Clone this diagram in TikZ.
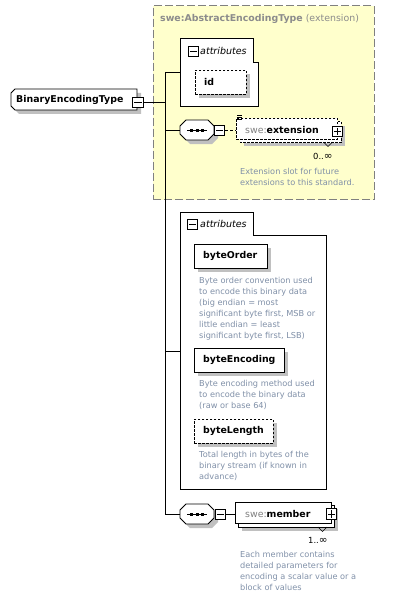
\documentclass[tikz,border=0pt]{standalone}
\usepackage{fontspec}
\setmainfont{DejaVu Sans}
\definecolor{yel}{HTML}{FFFFCC}
\definecolor{shadowgray}{HTML}{C0C0C0}
\definecolor{titlegray}{HTML}{8C8C8C}
\definecolor{doccol}{HTML}{8090A8}
\definecolor{prefgray}{HTML}{808080}
\newcommand\infsym{{\fontsize{10.5}{11}\selectfont ∞}}
\tikzset{
  shad/.style={fill=shadowgray, draw=none},
  conn/.style={line width=0.8pt, draw=black},
  elem/.style={draw=black, fill=white, line width=0.8pt, inner sep=0pt, anchor=north west},
  optel/.style={elem, dash pattern=on 2.5pt off 1.5pt},
  lbl/.style={font=\fontsize{9.4}{11}\selectfont\bfseries, inner sep=0pt, anchor=west},
  attrlbl/.style={font=\fontsize{9.5}{11}\selectfont\itshape, inner sep=0pt, anchor=west},
  doc/.style={font=\fontsize{8.2}{11}\selectfont, text=doccol, align=left, inner sep=0pt, anchor=north west},
  card/.style={font=\fontsize{8.4}{11}\selectfont, inner sep=0pt, anchor=west},
  pm/.style={draw=black, fill=white, line width=0.8pt, minimum size=10.5pt, inner sep=0pt},
}
\begin{document}
\begin{tikzpicture}[x=1pt,y=-1pt]
\useasboundingbox (0,0) rectangle (416,599);

% ---------- extension base (yellow) ----------
\node[draw=prefgray, fill=yel, line width=1.1pt, dash pattern=on 8pt off 3pt,
      minimum width=221pt, minimum height=194pt, inner sep=0pt, anchor=north west] (base) at (152.5,5) {};
\node[anchor=west, inner sep=0pt, text=titlegray, font=\fontsize{9.4}{11}\selectfont] (title) at (160,19)
  {\textbf{swe:AbstractEncodingType} (extension)};

% ---------- BinaryEncodingType ----------
\fill[shad] (19,93) -- (141,93) -- (141,114) -- (19,114) -- (15,110) -- (15,97) -- cycle;
\draw[conn, fill=white] (15,89) -- (137,89) -- (137,110) -- (15,110) -- (11,106) -- (11,93) -- cycle;
\node[lbl] (bet) at (16,100) {BinaryEncodingType};
\node[pm] (betm) at (138,102.5) {};
\draw[conn] ([xshift=2pt]betm.west) -- ([xshift=-2pt]betm.east);

% ---------- trunk ----------
\coordinate (t0) at (165,102.5);
\coordinate (t1) at (165,72);
\coordinate (t2) at (165,130);
\coordinate (t3) at (165,351);
\coordinate (t4) at (165,514);
\draw[conn] (betm.east) -- (t0);
\draw[conn] (t1) -- (t4);

% ---------- attributes group 1 ----------
\draw[conn, fill=white] (180,38) -- (253,38) -- (253,62) -- (258,62) -- (258,106) -- (180,106) -- cycle;
\coordinate (ag1) at (180,72);
\draw[conn] (t1) -- (ag1);
\node[pm] (ag1m) at (193.5,51.5) {};
\draw[conn] ([xshift=2pt]ag1m.west) -- ([xshift=-2pt]ag1m.east);
\node[attrlbl] (ag1l) at (200,51) {attributes};
\fill[shad] (199,74) rectangle (250,98);
\node[optel, minimum width=51pt, minimum height=24pt] (id) at (195,70) {};
\node[lbl] (idl) at (204,82) {id};

% ---------- sequence 1 ----------
\begin{scope}[shift={(180,120)}]
  \fill[shad] (10,4) -- (32,4) -- (38,10) -- (38,18) -- (32,24) -- (10,24) -- (4,18) -- (4,10) -- cycle;
  \draw[conn, fill=white] (6,0) -- (28,0) -- (34,6) -- (34,14) -- (28,20) -- (6,20) -- (0,14) -- (0,6) -- cycle;
  \draw[line width=0.9pt] (7,10) -- (27,10);
  \fill (10,8.5) rectangle +(3,3);
  \fill (15.5,8.5) rectangle +(3,3);
  \fill (21,8.5) rectangle +(3,3);
\end{scope}
\node[inner sep=0pt, minimum width=34pt, minimum height=20pt] (seq1) at (197,130) {};
\draw[conn] (t2) -- (seq1.west);
\node[pm] (seq1m) at (219.5,130.5) {};
\draw[conn] ([xshift=2pt]seq1m.west) -- ([xshift=-2pt]seq1m.east);

% ---------- swe:extension ----------
\fill[shad] (244,126) rectangle (345,146);
\draw[conn, fill=white, dash pattern=on 2.5pt off 1.5pt] (240,121.5) rectangle (341,142.5);
\node[optel, minimum width=101pt, minimum height=21pt] (ext) at (236,118) {};
\draw[conn, dash pattern=on 3pt off 2pt] (seq1m.east) -- (ext.west |- seq1m.east);
\draw[line width=0.5pt] (237,115) -- (242,115) (237,117.3) -- (242,117.3) (237,119.6) -- (242,119.6);
\node[lbl] (extl) at (245,130) {\textcolor{prefgray}{\mdseries swe:}extension};
\node[pm] (extp) at (337.5,131.5) {};
\draw[conn] ([xshift=2pt]extp.west) -- ([xshift=-2pt]extp.east)
            ([yshift=-2pt]extp.north) -- ([yshift=2pt]extp.south);
\draw[line width=0.6pt] (324,142.5) -- (328,146.5) -- (332,142.5);
\node[card] (extc) at (313,156) {0..\infsym};
\node[doc] (extd) at (240,168) {Extension slot for future\\extensions to this standard.};

% ---------- attributes group 2 ----------
\draw[conn, fill=white] (180,212) -- (253,212) -- (253,235) -- (326,235) -- (326,489) -- (180,489) -- cycle;
\coordinate (ag2) at (180,351);
\draw[conn] (t3) -- (ag2);
\node[pm] (ag2m) at (192.5,224.5) {};
\draw[conn] ([xshift=2pt]ag2m.west) -- ([xshift=-2pt]ag2m.east);
\node[attrlbl] (ag2l) at (200,224) {attributes};

% byteOrder
\fill[shad] (198,248) rectangle (271,272);
\node[elem, minimum width=73pt, minimum height=24pt] (bo) at (194,244) {};
\node[lbl] (bol) at (203,256) {byteOrder};
\node[doc] (bod) at (199,277) {Byte order convention used\\to encode this binary data\\(big endian = most\\significant byte first, MSB or\\little endian = least\\significant byte first, LSB)};

% byteEncoding
\fill[shad] (198,352) rectangle (288,376);
\node[elem, minimum width=90pt, minimum height=24pt] (be) at (194,348) {};
\node[lbl] (bel) at (203,360) {byteEncoding};
\node[doc] (bed) at (199,380) {Byte encoding method used\\to encode the binary data\\(raw or base 64)};

% byteLength
\fill[shad] (198,423) rectangle (277,447);
\node[optel, minimum width=79pt, minimum height=24pt] (bl) at (194,419) {};
\node[lbl] (bll) at (203,431) {byteLength};
\node[doc] (bld) at (199,451) {Total length in bytes of the\\binary stream (if known in\\advance)};

% ---------- sequence 2 ----------
\begin{scope}[shift={(180,504)}]
  \fill[shad] (10,4) -- (32,4) -- (38,10) -- (38,18) -- (32,24) -- (10,24) -- (4,18) -- (4,10) -- cycle;
  \draw[conn, fill=white] (6,0) -- (28,0) -- (34,6) -- (34,14) -- (28,20) -- (6,20) -- (0,14) -- (0,6) -- cycle;
  \draw[line width=0.9pt] (7,10) -- (27,10);
  \fill (10,8.5) rectangle +(3,3);
  \fill (15.5,8.5) rectangle +(3,3);
  \fill (21,8.5) rectangle +(3,3);
\end{scope}
\node[inner sep=0pt, minimum width=34pt, minimum height=20pt] (seq2) at (197,514) {};
\draw[conn] (t4) -- (seq2.west);
\node[pm] (seq2m) at (220.5,514.5) {};
\draw[conn] ([xshift=2pt]seq2m.west) -- ([xshift=-2pt]seq2m.east);

% ---------- swe:member ----------
\fill[shad] (242,509) rectangle (338,531);
\draw[conn, fill=white] (238.5,505.5) rectangle (334.5,527);
\node[elem, minimum width=96pt, minimum height=21pt] (mem) at (235,502) {};
\draw[conn] (seq2m.east) -- (mem.west |- seq2m.east);
\node[lbl] (meml) at (245,514) {\textcolor{prefgray}{\mdseries swe:}member};
\node[pm] (memp) at (331.5,514) {};
\draw[conn] ([xshift=2pt]memp.west) -- ([xshift=-2pt]memp.east)
            ([yshift=-2pt]memp.north) -- ([yshift=2pt]memp.south);
\draw[line width=0.6pt] (318,527) -- (322.5,531.5) -- (327,527);
\node[card] (memc) at (308,540) {1..\infsym};
\node[doc] (memd) at (240,551) {Each member contains\\detailed parameters for\\encoding a scalar value or a\\block of values};
\end{tikzpicture}
\end{document}
